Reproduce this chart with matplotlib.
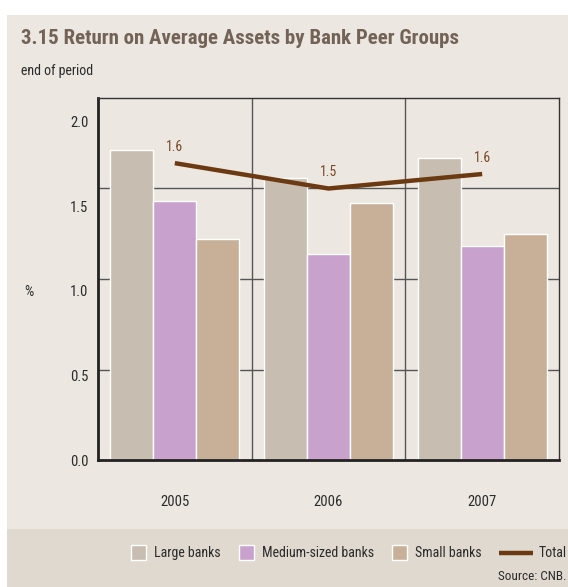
import numpy as np
import matplotlib.pyplot as plt
from matplotlib.patches import Rectangle
from matplotlib.lines import Line2D

years = ['2005', '2006', '2007']
large_banks = [1.71, 1.56, 1.67]
medium_banks = [1.43, 1.14, 1.18]
small_banks = [1.22, 1.42, 1.25]
total = [1.64, 1.50, 1.58]
ytick_labels = ['0.0', '0.5', '1.0', '1.5', '2.0']
legend_labels = ['Large banks', 'Medium-sized banks', 'Small banks', 'Total']

plt.rcParams['font.family'] = ['Roboto Condensed', 'DejaVu Sans']

bg = '#ECE7E1'
band = '#E0D9CF'
c_large = '#C7BDB1'
c_medium = '#C8A2CC'
c_small = '#C8B098'
c_total = '#6B3A12'
c_text = '#2b2b2b'

W, H = 568, 587
fig = plt.figure(figsize=(W / 100, H / 100), dpi=100)
fig.patch.set_facecolor('white')


def px(x, y):
    # pixel position from the top-left -> figure fraction
    return x / W, 1 - y / H


# beige panel and darker legend band
fig.patches.append(Rectangle((7 / W, 0), 1 - 7 / W, 1 - 15 / H, transform=fig.transFigure,
                             facecolor=bg, edgecolor='none', zorder=-2))
fig.patches.append(Rectangle((7 / W, 0), 1 - 7 / W, 58 / H, transform=fig.transFigure,
                             facecolor=band, edgecolor='none', zorder=-1))

fig.text(*px(21, 39), '3.15 Return on Average Assets by Bank Peer Groups',
         fontsize=15, fontweight='bold', color='#736357', va='center')
fig.text(*px(21, 71), 'end of period', fontsize=10, color=c_text, va='center')
fig.text(*px(24, 292), '%', fontsize=10.5, color=c_text, va='center')

ax = fig.add_axes([98 / W, (H - 460) / H, 461 / W, 362 / H])
ax.set_facecolor(bg)

x = np.arange(len(years))
w = 0.28
ax.bar(x - w, large_banks, w, color=c_large, edgecolor='white', linewidth=1, zorder=2)
ax.bar(x, medium_banks, w, color=c_medium, edgecolor='white', linewidth=1, zorder=2)
ax.bar(x + w, small_banks, w, color=c_small, edgecolor='white', linewidth=1, zorder=2)

ax.plot(x, total, color=c_total, linewidth=3.2, solid_capstyle='butt', zorder=3)
for xi, v in zip(x, total):
    ax.text(xi, v + 0.05, f'{v:.1f}', ha='center', va='bottom', fontsize=10, color='#7A4A26')

ax.set_xlim(-0.5, 2.5)
ax.set_ylim(0, 2.0)

# gridlines every 0.5 behind bars, dividers between years
for g in [0.5, 1.0, 1.5]:
    ax.axhline(g, color='#555555', linewidth=1, zorder=1)
for d in [0.5, 1.5]:
    ax.axvline(d, color='#555555', linewidth=1, zorder=1)

ax.set_xticks(x)
ax.set_xticklabels(years)
ax.set_yticks(np.linspace(0, 1.87, 5))
ax.set_yticklabels(ytick_labels)
ax.tick_params(axis='both', length=0, labelsize=10.5, labelcolor=c_text)
ax.tick_params(axis='x', pad=25)
ax.tick_params(axis='y', pad=7)

for s in ['left', 'bottom']:
    ax.spines[s].set_linewidth(2)
    ax.spines[s].set_color('#222222')
for s in ['top', 'right']:
    ax.spines[s].set_linewidth(1)
    ax.spines[s].set_color('#333333')

# legend along the bottom band
ly = 553
swatches = [(131, c_large), (239, c_medium), (392, c_small)]
for (sx, col), lab in zip(swatches, legend_labels[:3]):
    fig.patches.append(Rectangle(px(sx, ly + 7), 15 / W, 15 / H, transform=fig.transFigure,
                                 facecolor=col, edgecolor='white', linewidth=1))
    fig.text(*px(sx + 23, ly), lab, fontsize=10, color=c_text, va='center')
x0, y0 = px(499, ly)
x1, _ = px(533, ly)
fig.lines.append(Line2D([x0, x1], [y0, y0], transform=fig.transFigure,
                        color=c_total, linewidth=3.2, solid_capstyle='butt'))
fig.text(*px(539, ly), legend_labels[3], fontsize=10, color=c_text, va='center')

fig.text(*px(566, 577), 'Source: CNB.', fontsize=9.5, color=c_text, ha='right', va='center')

fig.savefig('out.png', dpi=100)
